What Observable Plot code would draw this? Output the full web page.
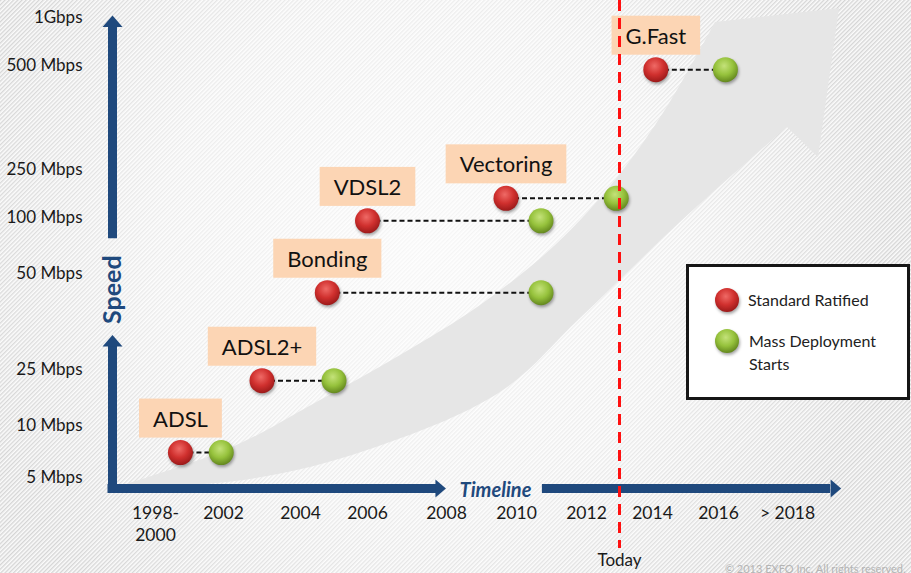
<!DOCTYPE html>
<html><head><meta charset="utf-8">
<script src="https://cdn.jsdelivr.net/npm/d3@7"></script>
<script src="https://cdn.jsdelivr.net/npm/@observablehq/plot@0.6"></script>
<style>
html,body{margin:0;padding:0;overflow:hidden;background:#fff;}
#wrap{position:relative;width:911px;height:573px;overflow:hidden;font-family:Lato,sans-serif;}
#bg{position:absolute;left:0;top:0;}
#chart{position:absolute;left:0;top:0;width:911px;height:573px;}
#chart svg{position:absolute;left:0;top:0;}
#chart circle, .legend-dot circle{filter:drop-shadow(1px 2px 1.5px rgba(0,0,0,0.35));}
.legend{position:absolute;left:686px;top:264px;width:224px;height:136px;box-sizing:border-box;border:3px solid #161616;background:#fff;}
.li{position:absolute;font-size:16px;color:#222;line-height:23px;}
.legend-dot{position:absolute;width:28px;height:28px;overflow:visible;}
</style></head>
<body>
<svg width="0" height="0" style="position:absolute">
  <defs>
    <radialGradient id="gRed" cx="45%" cy="35%" r="65%">
      <stop offset="0" stop-color="#ef6a66"/>
      <stop offset="0.55" stop-color="#d0302e"/>
      <stop offset="1" stop-color="#9c1a1a"/>
    </radialGradient>
    <radialGradient id="gGreen" cx="45%" cy="35%" r="65%">
      <stop offset="0" stop-color="#c4e27a"/>
      <stop offset="0.55" stop-color="#96c23c"/>
      <stop offset="1" stop-color="#64881e"/>
    </radialGradient>
    <pattern id="stripes" width="3" height="3" patternUnits="userSpaceOnUse" patternTransform="rotate(45)">
      <rect width="3" height="3" fill="#fbfbfb"/>
      <line x1="0.7" y1="0" x2="0.7" y2="3" stroke="#d4d4d4" stroke-width="1.3"/>
    </pattern>
    <radialGradient id="glow" gradientUnits="userSpaceOnUse" cx="420" cy="250" r="470">
      <stop offset="0" stop-color="#fff" stop-opacity="0.8"/>
      <stop offset="0.55" stop-color="#fff" stop-opacity="0.55"/>
      <stop offset="1" stop-color="#fff" stop-opacity="0"/>
    </radialGradient>
  </defs>
</svg>
<div id="wrap">
  <svg id="bg" width="911" height="573">
    <rect width="911" height="573" fill="url(#stripes)"/>
    <rect width="911" height="573" fill="url(#glow)"/>
    <path id="swoosh" fill="#e6e6e6"/>
  </svg>
  <div id="chart"></div>
  <div class="legend"></div>
  <svg class="legend-dot" style="left:713px;top:286px"><circle cx="14" cy="14" r="12" fill="url(#gRed)"/></svg>
  <div class="li" style="left:748px;top:288px">Standard Ratified</div>
  <svg class="legend-dot" style="left:713px;top:327px"><circle cx="14" cy="14" r="12" fill="url(#gGreen)"/></svg>
  <div class="li" style="left:749px;top:329px">Mass Deployment<br>Starts</div>
</div>
<script>
// ---- data ----
const technologies = ["ADSL", "ADSL2+", "Bonding", "VDSL2", "Vectoring", "G.Fast"];
const ratifiedYear = [2000.1, 2003.0, 2004.8, 2006.0, 2009.7, 2014.1];
const deployYear   = [2001.9, 2005.0, 2010.7, 2010.7, 2012.9, 2016.2];
const speedMbps    = [7.4, 22, 45, 97, 160, 490];

const speedTicks  = [5, 10, 25, 50, 100, 250, 500, 1000];
const speedLabels = ["5 Mbps", "10 Mbps", "25 Mbps", "50 Mbps", "100 Mbps", "250 Mbps", "500 Mbps", "1Gbps"];
const yearTicks   = [1999, 2002, 2004, 2006, 2008, 2010, 2012, 2014, 2016, 2018];
const yearLabels  = ["1998-\n2000", "2002", "2004", "2006", "2008", "2010", "2012", "2014", "2016", "> 2018"];
const todayYear = 2013;

// ---- decorative axis geometry (data units) ----
const originYear = 1997.1;
const speedArrows = [{from: 0, to: 31}, {from: 81, to: 900}];
const timeArrows = [{from: originYear, to: 2007.72}, {from: 2010.74, to: 2019.25}];

const BLUE = "#1f497d";
const techs = technologies.map((name, i) => ({name, r: ratifiedYear[i], d: deployYear[i], s: speedMbps[i]}));

const headUp = {draw(ctx) { ctx.moveTo(-10, 0); ctx.lineTo(0, -11.5); ctx.lineTo(10, 0); ctx.closePath(); }};
const headRight = {draw(ctx) { ctx.moveTo(-9, 0); ctx.lineTo(0, -10.5); ctx.lineTo(9, 0); ctx.closePath(); }};

const plot = Plot.plot({
  width: 911, height: 573, margin: 0,
  style: {background: "transparent", fontFamily: "Lato, sans-serif", overflow: "visible"},
  x: {type: "linear", domain: [originYear, ...yearTicks], range: [112, 155, 223, 300, 367, 446, 516, 586, 652, 718, 787], axis: null},
  y: {type: "linear", domain: [0, ...speedTicks], range: [488, 477, 425, 369, 273, 217, 169, 65, 17], axis: null},
  marks: [
    // axis arrows
    Plot.ruleX([speedArrows[0]], {x: () => originYear, y1: "from", y2: "to", stroke: BLUE, strokeWidth: 9, strokeLinecap: "square"}),
    Plot.ruleX([speedArrows[1]], {x: () => originYear, y1: "from", y2: "to", stroke: BLUE, strokeWidth: 9}),
    Plot.dot(speedArrows, {x: () => originYear, y: "to", symbol: headUp, fill: BLUE, stroke: "none"}),
    Plot.ruleY([timeArrows[0]], {y: () => 0, x1: "from", x2: "to", stroke: BLUE, strokeWidth: 9, strokeLinecap: "square"}),
    Plot.ruleY([timeArrows[1]], {y: () => 0, x1: "from", x2: "to", stroke: BLUE, strokeWidth: 9}),
    Plot.dot(timeArrows, {x: "to", y: () => 0, symbol: headRight, rotate: 90, fill: BLUE, stroke: "none"}),
    Plot.text(["Speed"], {x: () => originYear, y: () => 45.8, text: d => d, rotate: -90, fill: BLUE, fontWeight: "bold", fontSize: 25}),
    Plot.text(["Timeline"], {x: () => 2009.4, y: () => 0, dy: 2, text: d => d, fill: BLUE, fontWeight: "bold", fontStyle: "italic", fontSize: 20}),
    // tick labels
    Plot.text(speedTicks, {frameAnchor: "left", dx: 82, y: d => d, text: (d, i) => speedLabels[i], textAnchor: "end", fontSize: 17, fill: "#1a1a1a"}),
    Plot.text(yearTicks, {x: d => d, frameAnchor: "bottom", dy: -70, lineAnchor: "top", lineHeight: 1.25, text: (d, i) => yearLabels[i], fontSize: 17.5, fill: "#1a1a1a"}),
    // connectors + dots
    Plot.link(techs, {x1: "r", x2: "d", y1: "s", y2: "s", stroke: "#111", strokeWidth: 2, strokeDasharray: "5,3"}),
    Plot.dot(techs, {x: "d", y: "s", r: 12.5, fill: "url(#gGreen)", stroke: "none"}),
    Plot.dot(techs, {x: "r", y: "s", r: 12.5, fill: "url(#gRed)", stroke: "none"}),
    Plot.text(techs, {x: "r", y: "s", dy: -33, text: "name", fontSize: 22, fill: "#111"}),
    // today
    Plot.ruleX([todayYear], {stroke: "#ff1010", strokeWidth: 3, strokeDasharray: "11,7", insetBottom: 25}),
    Plot.text(["Today"], {x: () => todayYear, frameAnchor: "bottom", dy: -8, text: d => d, fontSize: 17, fill: "#1a1a1a"}),
    Plot.text(["© 2013 EXFO Inc. All rights reserved."], {frameAnchor: "bottom-right", dx: -6, dy: -1, text: d => d, textAnchor: "end", fontSize: 11, fill: "#b4b4b4"})
  ]
});
document.getElementById("chart").appendChild(plot);

// label boxes behind technology names
const NS = "http://www.w3.org/2000/svg";
const names = new Set(technologies);
Array.from(plot.querySelectorAll("text")).filter(t => names.has(t.textContent)).forEach(t => {
  const b = t.getBBox();
  const r = document.createElementNS(NS, "rect");
  r.setAttribute("x", b.x - 14);
  r.setAttribute("width", b.width + 28);
  r.setAttribute("y", b.y + b.height / 2 - 19.5);
  r.setAttribute("height", 39);
  r.setAttribute("fill", "#fcd5b4");
  if (t.getAttribute("transform")) r.setAttribute("transform", t.getAttribute("transform"));
  t.parentNode.insertBefore(r, t);
});

// background swoosh arrow (decoration)
const lowerEdge = [[113,489],[250,479],[367,450],[500,392],[580,318],[680,222],[787,127]];
const upperEdge = [[715,22],[668,105],[615,180],[555,245],[480,305],[400,355],[320,400],[230,448],[113,488]];
const ln = d3.line().curve(d3.curveCatmullRom);
const dPath = ln(lowerEdge) + "L818,157L839,8" + ln(upperEdge).replace(/^M/, "L") + "Z";
document.getElementById("swoosh").setAttribute("d", dPath);
</script>
</body></html>
